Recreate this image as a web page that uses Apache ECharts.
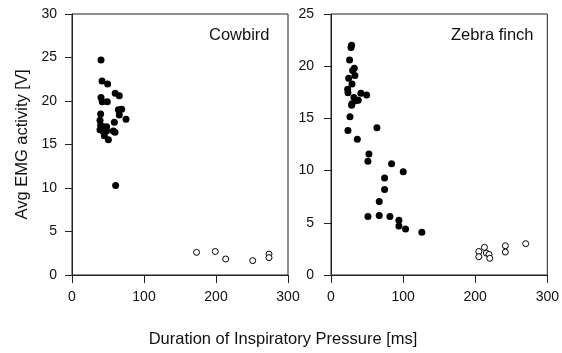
<!DOCTYPE html>
<html><head><meta charset="utf-8">
<script src="https://cdn.jsdelivr.net/npm/echarts@6/dist/echarts.min.js"></script>
<style>html,body{margin:0;padding:0;background:#fff}#c{width:562px;height:353px}</style>
</head><body><div id="c"></div>
<script>
// Cowbird (left panel)
const cowbirdFilled = [
 [40.3,24.7],[41.7,22.3],[49.5,21.95],[40.3,20.4],[42,19.9],[49,19.9],[60,20.9],[65.7,20.6],
 [64.4,19.0],[69,19.05],[65.7,18.4],[75,17.9],[39.8,18.5],[38.9,17.8],[39.8,17.2],[43.5,17.05],
 [48.1,17.05],[38.9,16.7],[43.5,16.5],[48,16.55],[58.8,17.55],[57.4,16.55],[59.7,16.4],[44.9,16.0],
 [50.5,15.55],[60.6,10.3]
];
const cowbirdOpen = [[173,2.6],[199,2.7],[213.4,1.84],[251,1.65],[273.6,2.4],[273.6,2.0]];
// Zebra finch (right panel)
const zebraFilled = [
 [28.6,22.0],[27.7,21.8],[25.8,20.6],[32.3,19.8],[30,19.6],[33.2,19.1],[24.5,18.85],[29.1,18.3],
 [23.1,17.8],[23.5,17.45],[41.5,17.4],[49.4,17.25],[31.8,17.0],[37.8,16.75],[34.2,16.7],[29.1,16.4],
 [28.6,16.25],[26.3,15.15],[23.5,13.85],[36.5,13.0],[63.7,14.1],[52.6,11.6],[51.2,10.9],[84,10.65],
 [100.2,9.9],[74.3,9.3],[74.3,8.2],[66.9,7.05],[51.2,5.6],[66.9,5.7],[81.7,5.6],[94.2,5.25],
 [94.2,4.7],[103.4,4.4],[126,4.1]
];
const zebraOpen = [[205,2.25],[205,1.75],[212.8,2.65],[215.5,2.1],[219.2,1.97],[220.2,1.6],[241.8,2.8],[241.8,2.2],[270,3.0]];
const xTicks = [0,100,200,300];
const leftYMax = 30, rightYMax = 25;
const panelTitles = ['Cowbird','Zebra finch'];
const yName = 'Avg EMG activity [V]';
const xName = 'Duration of Inspiratory Pressure [ms]';

const font = 'Liberation Sans, Arial, sans-serif';
const axisCol = '#222';
function xAxis(gi){return {gridIndex:gi,type:'value',min:xTicks[0],max:xTicks[xTicks.length-1],interval:100,
  axisLine:{show:true,onZero:false,lineStyle:{color:axisCol,width:1}},
  axisTick:{show:true,inside:false,length:8,lineStyle:{color:axisCol}},
  axisLabel:{color:'#111',fontSize:14,fontFamily:font,margin:15},splitLine:{show:false}};}
function yAxis(gi,max,name,margin){return {gridIndex:gi,type:'value',min:0,max:max,interval:5,
  name:name,nameLocation:'middle',nameGap:41,nameTextStyle:{color:'#111',fontSize:16.5,fontFamily:font},
  axisLine:{show:true,lineStyle:{color:axisCol,width:1}},
  axisTick:{show:true,inside:false,length:7,lineStyle:{color:axisCol}},
  axisLabel:{color:'#111',fontSize:14,fontFamily:font,margin:margin},splitLine:{show:false}};}
function filled(gi,data){return {type:'scatter',xAxisIndex:gi,yAxisIndex:gi,data:data,symbolSize:7,
  itemStyle:{color:'#000',borderColor:'#000',borderWidth:0,opacity:1},silent:true};}
function open(gi,data){return {type:'scatter',xAxisIndex:gi,yAxisIndex:gi,data:data,symbolSize:6,
  itemStyle:{color:'#fff',borderColor:'#000',borderWidth:1,opacity:1},silent:true};}

const chart = echarts.init(document.getElementById('c'),null,{renderer:'canvas'});
chart.setOption({
  animation:false,
  backgroundColor:'#fff',
  grid:[
    {left:72,right:274,top:14,bottom:78,show:true,borderColor:axisCol,borderWidth:1,backgroundColor:'transparent'},
    {left:331,right:14,top:14,bottom:78,show:true,borderColor:axisCol,borderWidth:1,backgroundColor:'transparent'}
  ],
  xAxis:[xAxis(0),xAxis(1)],
  yAxis:[yAxis(0,leftYMax,yName,15),yAxis(1,rightYMax,'',17)],
  graphic:[
    {type:'text',x:209,y:35,style:{text:panelTitles[0],fontSize:16.5,fontFamily:font,fill:'#111',textVerticalAlign:'middle'}},
    {type:'text',x:451,y:35,style:{text:panelTitles[1],fontSize:16.5,fontFamily:font,fill:'#111',textVerticalAlign:'middle'}},
    {type:'text',x:283,y:339,style:{text:xName,fontSize:16.5,fontFamily:font,fill:'#111',textAlign:'center',textVerticalAlign:'middle'}}
  ],
  series:[filled(0,cowbirdFilled),open(0,cowbirdOpen),filled(1,zebraFilled),open(1,zebraOpen)]
});
</script></body></html>
